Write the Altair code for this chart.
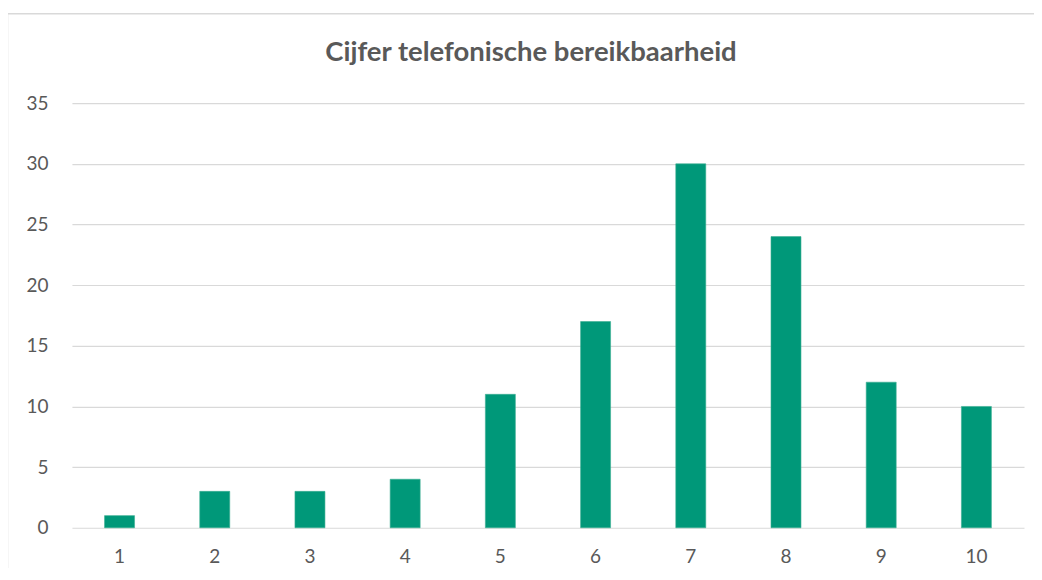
import altair as alt
import pandas as pd

categories = ["1", "2", "3", "4", "5", "6", "7", "8", "9", "10"]
counts = [1, 3, 3, 4, 11, 17, 30, 24, 12, 10]

df = pd.DataFrame({"cijfer": categories, "aantal": counts})

W, H = 953, 425

bars = alt.Chart(df).mark_bar(color="#009879", stroke="#3aae92", strokeWidth=0.6).encode(
    x=alt.X("cijfer:N", sort=categories,
            scale=alt.Scale(paddingInner=0.685, paddingOuter=0.3425),
            axis=alt.Axis(title=None, labelAngle=0, ticks=False, domain=False,
                          labelPadding=20, labelFontSize=19, labelColor="#595959",
                          labelFont="Lato", grid=False)),
    y=alt.Y("aantal:Q", scale=alt.Scale(domain=[0, 35], nice=False),
            axis=alt.Axis(title=None, values=[0, 5, 10, 15, 20, 25, 30, 35],
                          ticks=False, domain=False, labelPadding=24,
                          labelFontSize=19, labelColor="#595959", labelFont="Lato",
                          gridColor="#d9d9d9", gridWidth=1.2)),
)

border = alt.Chart(pd.DataFrame({"a": [0]})).mark_rect(
    fill=None, stroke="#d9d9d9", strokeWidth=1.5).encode(
    x=alt.value(-64.5), x2=alt.value(W + 200),
    y=alt.value(-89.5), y2=alt.value(H + 200),
)

chart = alt.layer(border, bars).properties(
    width=W, height=H,
    padding={"left": 64, "top": 95, "right": 10, "bottom": 40},
    autosize=alt.AutoSizeParams(type="none"),
    title=alt.TitleParams("Cijfer telefonische bereikbaarheid", font="Lato",
                          fontSize=27.5, fontWeight="bold", color="#595959",
                          anchor="middle", offset=-54, dx=-17),
).configure_view(stroke=None)

chart.save("out.html", embed_options={"renderer": "svg", "actions": False})
